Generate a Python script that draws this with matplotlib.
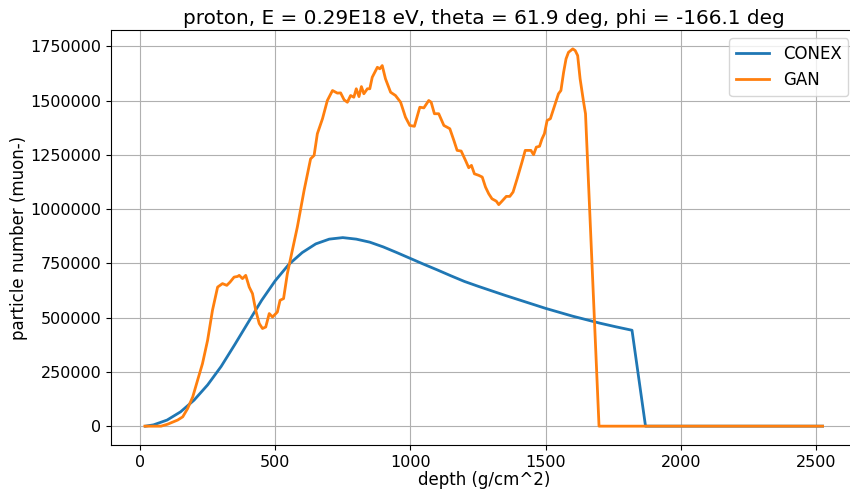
import matplotlib
matplotlib.use("Agg")
import matplotlib.pyplot as plt

# CONEX longitudinal profile (depth in g/cm^2, muon- count)
conex_depth = [20, 50, 100, 150, 200, 250, 300, 350, 400, 450, 500, 550, 600,
               650, 700, 750, 800, 850, 900, 950, 1000, 1050, 1100, 1150, 1200,
               1250, 1300, 1350, 1400, 1450, 1500, 1550, 1600, 1650, 1700, 1760,
               1820, 1870, 2000, 2200, 2400, 2525]
conex_n = [0, 6000, 28000, 66000, 120000, 190000, 275000, 375000, 478000,
           580000, 670000, 745000, 800000, 840000, 862000, 869000, 862000,
           848000, 826000, 800000, 773000, 746000, 720000, 693000, 667000,
           645000, 624000, 603000, 583000, 563000, 543000, 525000, 507000,
           491000, 475000, 458000, 442000, 0, 0, 0, 0, 0]

# GAN profile
gan_depth = [18, 78, 102, 139, 158, 176, 195, 213, 231, 250, 268, 287, 305, 321,
             333, 348, 361, 367, 379, 391, 404, 416, 428, 441, 453, 465, 478,
             490, 508, 518, 531, 545, 558, 582, 607, 631, 644, 656, 675, 693,
             712, 730, 742, 755, 767, 779, 791, 800, 810, 819, 828, 841, 850,
             859, 878, 887, 896, 908, 927, 945, 964, 982, 998, 1015, 1035, 1050,
             1068, 1077, 1089, 1105, 1124, 1146, 1161, 1173, 1188, 1204, 1216,
             1226, 1237, 1253, 1266, 1278, 1290, 1302, 1318, 1327, 1339, 1355,
             1368, 1380, 1395, 1413, 1425, 1446, 1456, 1466, 1478, 1487, 1496,
             1506, 1518, 1536, 1548, 1557, 1567, 1576, 1585, 1601, 1610, 1619,
             1628, 1641, 1648, 1698, 2000, 2300, 2525]
gan_n = [0, 0, 9000, 28000, 43000, 81000, 135000, 212000, 288000, 396000,
         534000, 641000, 657000, 649000, 664000, 687000, 690000, 695000,
         680000, 695000, 641000, 611000, 534000, 473000, 450000, 457000,
         519000, 503000, 526000, 580000, 588000, 703000, 779000, 918000,
         1087000, 1232000, 1248000, 1348000, 1417000, 1501000, 1547000,
         1535000, 1536000, 1504000, 1493000, 1524000, 1516000, 1555000,
         1519000, 1565000, 1532000, 1555000, 1555000, 1608000, 1654000,
         1647000, 1662000, 1601000, 1539000, 1524000, 1493000, 1424000,
         1386000, 1382000, 1470000, 1467000, 1501000, 1493000, 1440000,
         1440000, 1386000, 1371000, 1317000, 1271000, 1268000, 1225000,
         1191000, 1202000, 1163000, 1156000, 1148000, 1102000, 1071000,
         1048000, 1037000, 1021000, 1037000, 1059000, 1059000, 1079000,
         1140000, 1217000, 1271000, 1271000, 1251000, 1286000, 1290000,
         1324000, 1348000, 1409000, 1417000, 1486000, 1532000, 1547000,
         1631000, 1693000, 1723000, 1739000, 1731000, 1708000, 1601000,
         1493000, 1440000, 0, 0, 0, 0]

title = "proton, E = 0.29E18 eV, theta = 61.9 deg, phi = -166.1 deg"

fig = plt.figure(figsize=(8.5, 4.9), dpi=100)
ax = fig.add_axes([0.1306, 0.0918, 0.877, 0.847])
ax.plot(conex_depth, conex_n, color="#1f77b4", lw=2, label="CONEX")
ax.plot(gan_depth, gan_n, color="#ff7f0e", lw=2, label="GAN")
ax.grid(True)
ax.ticklabel_format(axis="y", style="plain", useOffset=False)
ax.tick_params(labelsize=11.5)
ax.set_xlabel("depth (g/cm^2)", fontsize=12, labelpad=1)
ax.set_ylabel("particle number (muon-)", fontsize=12, labelpad=1.5)
ax.set_title(title, fontsize=14.4, pad=4)
ax.legend(loc="upper right", fontsize=12)
fig.savefig("out.png", dpi=100)
